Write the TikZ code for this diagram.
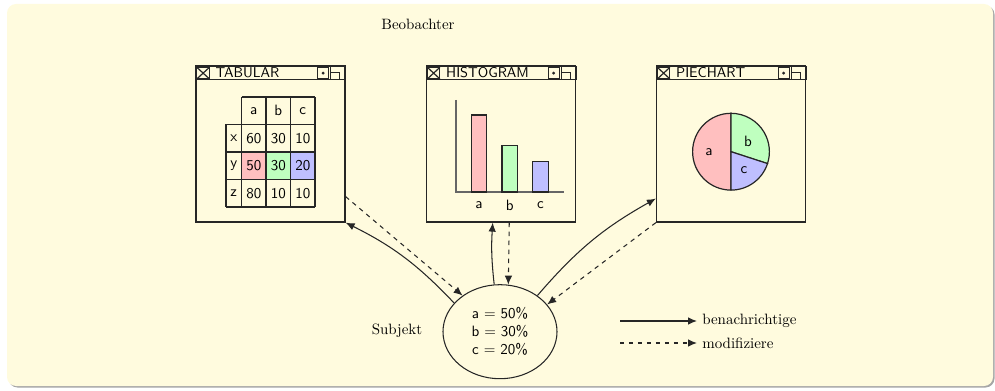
\documentclass[tikz,border=0pt]{standalone}
\usetikzlibrary{calc,arrows.meta,shapes.geometric}
\definecolor{paper}{RGB}{255,251,222}
\begin{document}
\begin{tikzpicture}[x=0.02346cm,y=0.02346cm,>={Latex[length=6pt,width=5pt]},
  window/.style={draw=black!85,line width=0.8pt,minimum width=3.4955cm,minimum height=3.66cm,inner sep=0pt},
  subject/.style={ellipse,draw=black!85,line width=0.7pt,minimum width=2.674cm,minimum height=2.205cm,align=center,font=\sffamily},
  cell/.style={draw=black!85,line width=0.8pt},
  link/.style={->,line width=0.7pt,black!85}]
% Paper
\useasboundingbox (0,0) rectangle (995,390);
\fill[black!35,rounded corners=6pt] (8.5,2.5) rectangle (994.5,384.5);
\fill[paper,rounded corners=6pt] (7,4) rectangle (993,386);

% Observers
\node (obs) at (418,366) {Beobachter};
\node[window] (tab) at (270.5,246) {};
\node[window] (hist) at (501,246) {};
\node[window] (pie) at (731,246) {};
\foreach \w/\t in {tab/TABULAR,hist/HISTOGRAM,pie/PIECHART} {
  \draw[cell] ($(\w.north west)+(0,-14)$) -- ($(\w.north east)+(0,-14)$);
  \draw[cell] ($(\w.north west)+(1.5,-2)$) rectangle ($(\w.north west)+(14,-13.5)$);
  \draw[cell] ($(\w.north west)+(1.5,-2)$) -- ($(\w.north west)+(14,-13.5)$);
  \draw[cell] ($(\w.north west)+(1.5,-13.5)$) -- ($(\w.north west)+(14,-2)$);
  \node[anchor=west,inner sep=0pt,font=\fontsize{9.5}{11}\sffamily] at ($(\w.north west)+(20,-7.5)$) {\t};
  \draw[cell] ($(\w.north east)+(-28,-2)$) rectangle ($(\w.north east)+(-17,-13.5)$);
  \fill[black!85] ($(\w.north east)+(-22.5,-7.75)$) circle (1.6);
  \draw[cell] ($(\w.north east)+(-15,-1)$) rectangle ($(\w.north east)+(0,-14)$);
  \draw[cell] ($(\w.north east)+(-15,-7)$) -| ($(\w.north east)+(-6,-14)$);
}

% Tabular
\fill[red!25] (241.5,210.5) rectangle (266,238);
\fill[green!25] (266,210.5) rectangle (290.5,238);
\fill[blue!25] (290.5,210.5) rectangle (315,238);
\draw[cell] (226,183) -- (226,265.5);
\foreach \x in {241.5,266,290.5,315}
  \draw[cell] (\x,183) -- (\x,293);
\draw[cell] (241.5,293) -- (315,293);
\foreach \y in {265.5,238,210.5,183}
  \draw[cell] (226,\y) -- (315,\y);
\foreach \l [count=\i from 0] in {a,b,c}
  \node[font=\sffamily] at (253.75+24.5*\i,279.25) {\l};
\foreach \r/\u/\v/\w [count=\j from 1] in {x/60/30/10,y/50/30/20,z/80/10/10} {
  \node[font=\sffamily] at (233.75,279.25-27.5*\j) {\r};
  \node[font=\sffamily] at (253.75,279.25-27.5*\j) {\u};
  \node[font=\sffamily] at (278.25,279.25-27.5*\j) {\v};
  \node[font=\sffamily] at (302.75,279.25-27.5*\j) {\w};
}

% Histogram
\draw[black!60,line width=0.8pt] (456,290) -- (456,198) -- (564,198);
\foreach \h/\l/\f [count=\i from 0] in {50/a/red!25,30/b/green!25,20/c/blue!25} {
  \draw[cell,fill=\f] (471.3+30.7*\i,198) rectangle ++(15.4,1.54*\h);
  \node[font=\sffamily] at (479+30.7*\i,185) {\l};
}

% Piechart
\filldraw[cell,fill=red!25] (731,238.3) -- ++(90:38.4) arc[start angle=90,end angle=270,radius=38.4] -- cycle;
\filldraw[cell,fill=green!25] (731,238.3) -- ++(90:38.4) arc[start angle=90,end angle=-18,radius=38.4] -- cycle;
\filldraw[cell,fill=blue!25] (731,238.3) -- ++(-18:38.4) arc[start angle=-18,end angle=-90,radius=38.4] -- cycle;
\node[font=\sffamily] at (709,238) {a};
\node[font=\sffamily] at (748,249) {b};
\node[font=\sffamily] at (744,220) {c};

% Subject
\node[subject] (subj) at (500,58.3) {a $=$ 50\%\\ b $=$ 30\%\\ c $=$ 20\%};
\node (sublabel) at (397,59) {Subjekt};

% Links
\draw[link] (subj.148) to[bend right=10] (tab.south east);
\draw[link,dashed] (tab.-35) -- (subj.136);
\draw[link] (subj.97) to[bend left=5] (hist.264);
\draw[link,dashed] (hist.276) -- (subj.80);
\draw[link] (subj.44) to[bend left=10] (pie.216);
\draw[link,dashed] (pie.south west) -- (subj.30);

% Legend
\coordinate (notifyA) at (620,69);
\coordinate (modifyA) at (620,47);
\node[anchor=west] (notify) at (697,69) {benachrichtige};
\node[anchor=west] (modify) at (697,47) {modifiziere};
\draw[link] (notifyA) -- (notify.west);
\draw[link,dashed] (modifyA) -- (modify.west);
\end{tikzpicture}
\end{document}
